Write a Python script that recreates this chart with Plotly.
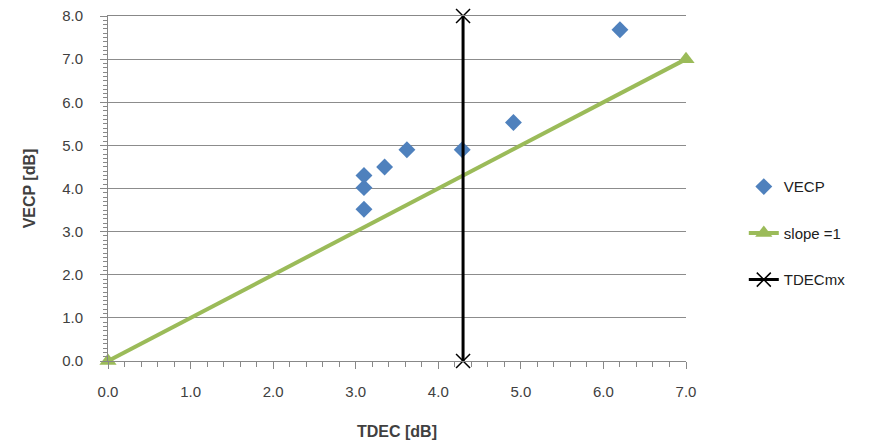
import plotly.graph_objects as go

vecp_x = [3.10, 3.10, 3.10, 3.35, 3.62, 4.29, 4.91, 6.20]
vecp_y = [3.52, 4.02, 4.30, 4.50, 4.90, 4.90, 5.53, 7.68]
slope_x = [0.0, 7.0]
slope_y = [0.0, 7.0]
tdec_x = [4.3, 4.3]
tdec_y = [0.0, 8.0]

FONT = "Liberation Sans Narrow, Liberation Sans, sans-serif"

fig = go.Figure()
fig.add_trace(go.Scatter(x=vecp_x, y=vecp_y, mode="markers", name="VECP",
                         marker=dict(symbol="diamond", size=13, color="#4F81BD"),
                         cliponaxis=False, legendgroup="a"))
fig.add_trace(go.Scatter(x=slope_x, y=slope_y, mode="lines+markers", name="slope =1",
                         line=dict(color="#9BBB59", width=4),
                         marker=dict(symbol="triangle-up", size=15, color="#9BBB59"),
                         cliponaxis=False, legendgroup="b"))
fig.add_trace(go.Scatter(x=tdec_x, y=tdec_y, mode="lines+markers", name="TDECmx",
                         line=dict(color="#000000", width=3),
                         marker=dict(symbol="x-thin", size=14, color="#000000",
                                     line=dict(width=1.5, color="#000000")),
                         cliponaxis=False, legendgroup="c"))

fig.update_layout(
    width=883, height=439,
    margin=dict(l=100, r=205, t=8, b=86, autoexpand=False),
    paper_bgcolor="white", plot_bgcolor="white",
    font=dict(family=FONT, size=15, color="#404040"),
    legend=dict(x=1.10, y=0.37, xanchor="left", yanchor="middle",
                font=dict(size=15, color="#202020"), tracegroupgap=24,
                bgcolor="rgba(0,0,0,0)"),
    xaxis=dict(range=[0, 7], dtick=1, tickformat=".1f", showgrid=False, zeroline=False,
               showline=True, mirror=True, linecolor="#888888", linewidth=1, automargin=False,
               ticks="outside", ticklen=7, tickcolor="#888888", ticklabelstandoff=10,
               minor=dict(dtick=0.2, ticks="outside", ticklen=5, tickcolor="#888888", showgrid=False),
               title=dict(text="<b>TDEC [dB]</b>", font=dict(size=16, color="#404040"), standoff=26)),
    yaxis=dict(range=[0, 8], dtick=1, tickformat=".1f", showgrid=True, gridcolor="#8C8C8C",
               gridwidth=1, zeroline=False, automargin=False,
               showline=True, linecolor="#888888", linewidth=1,
               ticks="outside", ticklen=7, tickcolor="#888888", ticklabelstandoff=14,
               ticklabeloverflow="allow",
               minor=dict(dtick=0.1, ticks="outside", ticklen=4, tickcolor="#888888", showgrid=False),
               title=dict(text="<b>VECP [dB]</b>", font=dict(size=16, color="#404040"), standoff=22)),
)

fig.write_html("out.html")
